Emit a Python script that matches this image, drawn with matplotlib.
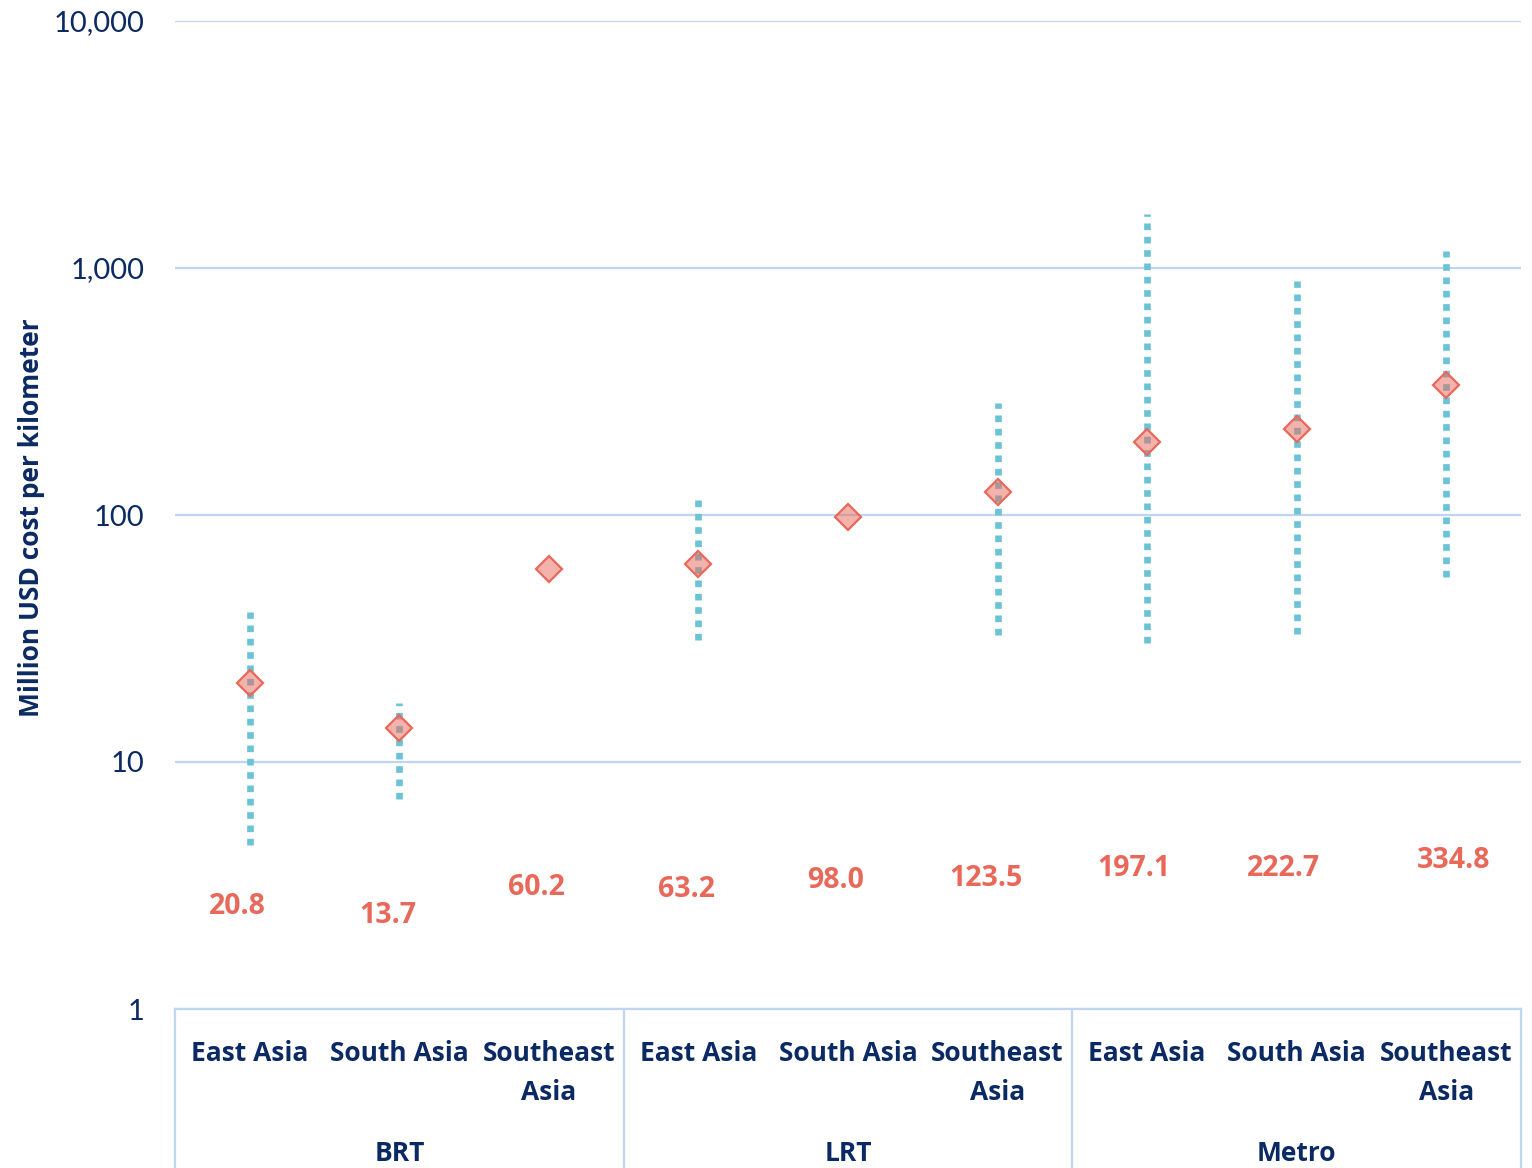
import matplotlib.pyplot as plt
from matplotlib.ticker import FixedLocator

plt.rcParams['font.family'] = ['Lato', 'DejaVu Sans']
bold_font = ['Open Sans', 'DejaVu Sans']

# cost per km by mode and region
regions = ['East Asia', 'South Asia', 'Southeast\nAsia'] * 3
modes = ['BRT', 'LRT', 'Metro']
averages = [20.8, 13.7, 60.2, 63.2, 98.0, 123.5, 197.1, 222.7, 334.8]
range_low = [4.6, 7.1, None, 31.2, None, 32.7, 30.3, 33.0, 56.1]
range_high = [40.5, 17.3, None, 115.0, None, 284.0, 1655.0, 886.0, 1172.0]
# where the value labels sit on the log axis
label_y = [2.59, 2.40, 3.09, 3.06, 3.30, 3.39, 3.72, 3.72, 4.01]
label_dx = [-0.08, -0.08, -0.08, -0.08, -0.08, -0.08, -0.09, -0.09, 0.05]

navy = '#0b2a63'
salmon = '#e8685a'
teal = '#6cc3d5'
grid_blue = '#bfd5f2'

fig = plt.figure(figsize=(15.32, 11.68), dpi=100)
ax = fig.add_axes([175 / 1532, 1 - 1009 / 1168, 1346 / 1532, 988 / 1168])

x = list(range(len(averages)))

# min-max ranges as dotted lines
for i in x:
    if range_low[i] is None:
        continue
    ax.plot([i, i], [range_low[i], range_high[i]], color=teal, lw=4.8,
            linestyle=(0, (1, 1)), solid_capstyle='butt', zorder=2)

# averages as diamonds
ax.plot(x, averages, linestyle='none', marker='D', markersize=13.5,
        markerfacecolor=(232 / 255, 104 / 255, 90 / 255, 0.5),
        markeredgecolor=salmon, markeredgewidth=1.6, zorder=3)

for i, v in enumerate(averages):
    ax.text(i + label_dx[i], label_y[i], f'{v:.1f}', color=salmon,
            fontsize=20.5, fontweight='bold', family=bold_font,
            ha='center', va='center')

ax.set_yscale('log')
ax.set_ylim(1, 10000)
ax.set_xlim(-0.5, len(averages) - 0.5)
ax.yaxis.set_major_locator(FixedLocator([1, 10, 100, 1000, 10000]))
ax.yaxis.set_minor_locator(FixedLocator([]))
ax.set_yticklabels(['1', '10', '100', '1,000', '10,000'])
ax.tick_params(axis='y', length=0, pad=22, labelsize=21, labelcolor=navy)
ax.grid(axis='y', color=grid_blue, lw=1.6)
ax.set_axisbelow(True)

ax.set_xticks(x)
ax.set_xticklabels(regions, fontsize=19, fontweight='bold', color=navy,
                   family=bold_font, linespacing=1.6)
ax.tick_params(axis='x', length=0, pad=22)

for s in ['top', 'right', 'left']:
    ax.spines[s].set_visible(False)
ax.spines['bottom'].set_color(grid_blue)
ax.spines['bottom'].set_linewidth(1.6)

# group separators and group names below the axis
trans = ax.get_xaxis_transform()
for b in [-0.5, 2.5, 5.5, 8.5]:
    ax.plot([b, b], [0, -0.17], color=grid_blue, lw=1.6, transform=trans,
            clip_on=False)
for k, name in enumerate(modes):
    ax.text(3 * k + 1, -0.146, name, transform=trans, ha='center',
            va='center', fontsize=19, fontweight='bold', color=navy,
            family=bold_font)

ax.set_ylabel('Million USD cost per kilometer', fontsize=19,
              fontweight='bold', color=navy, family=bold_font)
ax.yaxis.set_label_coords(-130 / 1346, 0.497)

fig.savefig('out.png', dpi=100)
